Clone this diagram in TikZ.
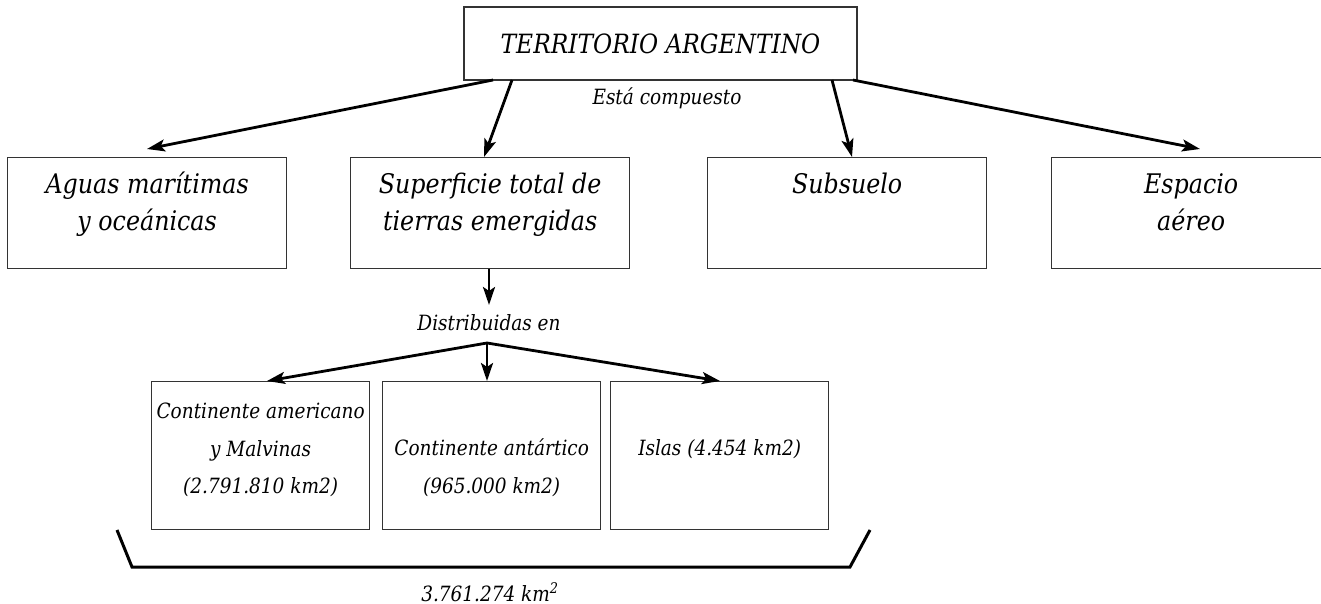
\documentclass[tikz,border=0pt]{standalone}
\usepackage{fontspec}
\setmainfont{DejaVu Serif}[FakeStretch=0.88]
\usetikzlibrary{arrows.meta,calc}
\newcommand{\bx}[4]{\parbox[c][#2][t]{#1}{\centering\rule{0pt}{#3}#4}}
\begin{document}
\begin{tikzpicture}[x=1pt,y=-1pt,
  box/.style={draw=black!80, line width=1.3pt, inner sep=0pt, anchor=north west},
  conn/.style={line width=2.8pt, -{Stealth[length=18pt,width=12pt,inset=4pt]}},
  bigtxt/.style={font=\fontsize{27}{37}\selectfont\itshape},
  titletxt/.style={font=\fontsize{26.5}{30}\selectfont\itshape},
  smalltxt/.style={font=\fontsize{21}{37.5}\selectfont\itshape},
  lbl/.style={font=\fontsize{21}{24}\selectfont\itshape, inner sep=0pt},
  brace/.style={line width=3pt, line join=miter}]
\useasboundingbox (0,0) rectangle (1321,604);
\clip (0,0) rectangle (1321,604);
% top
\node[box, titletxt, minimum width=393pt, minimum height=73pt, anchor=center] (title) at (660.5,43.5) {TERRITORIO ARGENTINO};
\node[lbl] (compuesto) at (667,98) {Está compuesto};
% row 1
\node[box, bigtxt] (aguas) at (7,157) {\bx{279pt}{111pt}{36pt}{Aguas marítimas\\y oceánicas}};
\node[box, bigtxt] (sup) at (350,157) {\bx{279pt}{111pt}{36pt}{Superficie total de\\tierras emergidas}};
\node[box, bigtxt] (sub) at (707,157) {\bx{279pt}{111pt}{36pt}{Subsuelo}};
\node[box, bigtxt] (esp) at (1051,157) {\bx{279pt}{111pt}{36pt}{Espacio\\aéreo}};
% connector start points
\coordinate (s1) at (493,80);
\coordinate (s2) at (512,80);
\coordinate (s3) at (832,80);
\coordinate (s4) at (853,80);
\coordinate (e1) at (147,149);
\coordinate (e4) at (1200,149);
\draw[conn] (s1) -- (e1);
\draw[conn] (s2) -- ($(sup.north west)+(134,0)$);
\draw[conn] (s3) -- ($(sub.north west)+(145,0)$);
\draw[conn] (s4) -- (e4);
% distribution
\node[lbl] (dist) at (489,323) {Distribuidas en};
\coordinate (apex) at (487,343);
\coordinate (d1) at (489,305);
\draw[conn] (sup.south -| d1) -- (d1);
% row 2
\node[box, smalltxt] (c1) at (151,381) {\bx{218pt}{148pt}{37pt}{Continente americano\\y Malvinas\\(2.791.810 km2)}};
\node[box, smalltxt] (c2) at (382,381) {\bx{218pt}{148pt}{74pt}{Continente antártico\\(965.000 km2)}};
\node[box, smalltxt] (c3) at (610,381) {\bx{218pt}{148pt}{74pt}{Islas (4.454 km2)}};
\draw[conn] (apex) -- ($(c1.north west)+(116,0)$);
\draw[conn] (apex) -- (c2.north -| apex);
\draw[conn] (apex) -- ($(c3.north west)+(110,0)$);
% bracket
\coordinate (b1) at (117,530);
\coordinate (b2) at (132,567);
\coordinate (b3) at (850,567);
\coordinate (b4) at (870,530);
\draw[brace] (b1) -- (b2) -- (b3) -- (b4);
\node[lbl, anchor=base] (total) at (490,601) {3.761.274 km\textsuperscript{2}};
\end{tikzpicture}
\end{document}
